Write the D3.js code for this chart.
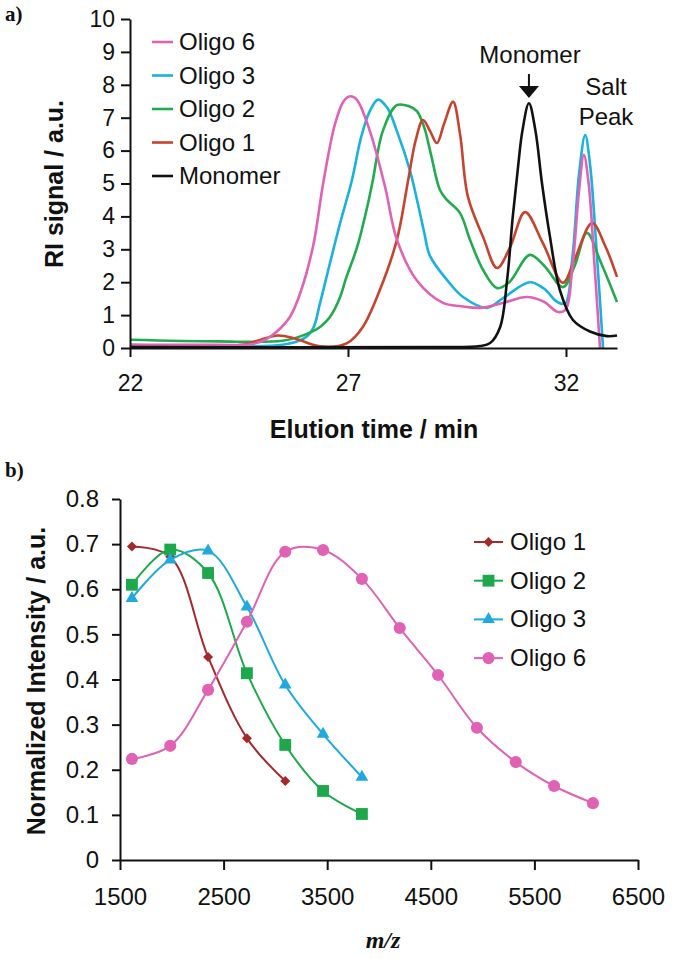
<!DOCTYPE html>
<html>
<head>
<meta charset="utf-8">
<script src="https://cdn.jsdelivr.net/npm/d3@7"></script>
<style>
  body { margin: 0; background: #fff; }
  text { font-family: "Liberation Sans", Arial, sans-serif; fill: #111; }
</style>
</head>
<body>
<svg id="chart" width="675" height="959"></svg>
<script>
// ---- panel a) GPC traces: elution time (min) vs RI signal ----
const oligo6T = [22, 23.5, 24.8, 25.1, 25.37, 25.67, 25.9, 26.2, 26.43, 26.7, 26.9, 27.05, 27.2, 27.5, 27.85, 28.12, 28.58, 29.18, 29.6, 30.03, 30.55, 31.1, 31.5, 31.8, 31.98, 32.15, 32.3, 32.41, 32.52, 32.65, 32.78];
const oligo6V = [0.1, 0.1, 0.12, 0.25, 0.5, 0.95, 1.65, 3.1, 5.0, 6.8, 7.5, 7.65, 7.55, 6.6, 4.9, 3.3, 2.05, 1.37, 1.27, 1.22, 1.37, 1.55, 1.4, 1.1, 1.15, 2.5, 4.8, 5.87, 5.0, 2.6, 0];

const oligo3T = [22, 25.5, 26.0, 26.2, 26.36, 26.59, 26.82, 27.09, 27.3, 27.5, 27.69, 27.9, 28.12, 28.42, 28.6, 28.75, 28.88, 29.27, 29.64, 30.19, 30.56, 31.17, 31.5, 31.8, 31.98, 32.15, 32.3, 32.44, 32.55, 32.7, 32.85];
const oligo3V = [0.1, 0.1, 0.3, 0.6, 1.37, 2.6, 3.8, 5.1, 6.4, 7.2, 7.55, 7.3, 6.6, 5.4, 4.4, 3.5, 2.8, 2.07, 1.55, 1.22, 1.52, 2.0, 1.8, 1.4, 1.35, 2.8, 5.3, 6.47, 5.6, 3.0, 0];

const oligo2T = [22, 24, 25.5, 26.0, 26.36, 26.59, 26.82, 26.95, 27.21, 27.46, 27.57, 27.8, 28.12, 28.4, 28.58, 28.75, 28.9, 29.11, 29.27, 29.57, 29.8, 30.1, 30.42, 30.7, 31.17, 31.5, 31.93, 32.2, 32.48, 32.8, 33.17];
const oligo2V = [0.25, 0.2, 0.22, 0.4, 0.64, 0.95, 1.55, 2.1, 3.07, 4.4, 5.1, 6.6, 7.38, 7.35, 7.2, 6.7, 5.9, 4.8, 4.5, 4.1, 3.28, 2.37, 1.82, 2.0, 2.83, 2.5, 1.85, 2.5, 3.5, 2.6, 1.4];

const oligo1T = [22, 24.2, 24.68, 25.0, 25.39, 25.8, 26.36, 26.98, 27.34, 27.73, 28.12, 28.38, 28.55, 28.72, 28.88, 29.04, 29.2, 29.41, 29.57, 29.75, 30.1, 30.42, 30.72, 31.06, 31.47, 31.93, 32.2, 32.6, 32.9, 33.17];
const oligo1V = [0.05, 0.05, 0.12, 0.25, 0.38, 0.28, 0.05, 0.15, 0.64, 1.76, 3.28, 5.1, 6.3, 6.93, 6.6, 6.23, 6.8, 7.48, 6.5, 4.6, 3.37, 2.43, 3.07, 4.13, 3.19, 1.98, 2.7, 3.8, 3.1, 2.16];

const monomerT = [22, 29.0, 30.03, 30.26, 30.49, 30.65, 30.78, 30.9, 31.0, 31.15, 31.3, 31.45, 31.63, 31.86, 32.16, 32.55, 32.94, 33.17];
const monomerV = [0.03, 0.03, 0.06, 0.15, 0.64, 2.07, 4.0, 5.5, 6.6, 7.44, 6.6, 5.0, 3.4, 1.76, 0.85, 0.5, 0.36, 0.38];

const gpcLegend = ["Oligo 6", "Oligo 3", "Oligo 2", "Oligo 1", "Monomer"];
const gpcTicksX = [22, 27, 32];
const gpcTicksY = [0, 1, 2, 3, 4, 5, 6, 7, 8, 9, 10];

// ---- panel b) normalized intensity vs m/z ----
const mzOligo1 = [1615, 1985, 2350, 2725, 3095];
const intOligo1 = [0.695, 0.672, 0.45, 0.27, 0.175];
const mzOligo2 = [1615, 1985, 2350, 2725, 3095, 3460, 3835];
const intOligo2 = [0.61, 0.688, 0.636, 0.414, 0.255, 0.153, 0.102];
const mzOligo3 = [1615, 1985, 2350, 2725, 3095, 3460, 3835];
const intOligo3 = [0.58, 0.665, 0.685, 0.561, 0.388, 0.279, 0.184];
const mzOligo6 = [1615, 1985, 2350, 2725, 3095, 3460, 3835, 4200, 4570, 4945, 5320, 5690, 6065];
const intOligo6 = [0.224, 0.253, 0.377, 0.528, 0.683, 0.687, 0.623, 0.514, 0.41, 0.293, 0.217, 0.164, 0.126];
const msTicksX = [1500, 2500, 3500, 4500, 5500, 6500];
const msTicksY = [0, 0.1, 0.2, 0.3, 0.4, 0.5, 0.6, 0.7, 0.8];

const zip = (xs, ys) => xs.map((x, i) => [x, ys[i]]);

const svg = d3.select("#chart");

// ======== panel a ========
const xa = d3.scaleLinear().domain([22, 33.17]).range([130, 617]);
const ya = d3.scaleLinear().domain([0, 10]).range([348, 19]);

const gpcSeries = [
  { name: "Oligo 3", color: "#1ab2dc", pts: zip(oligo3T, oligo3V) },
  { name: "Oligo 2", color: "#22ab4e", pts: zip(oligo2T, oligo2V) },
  { name: "Oligo 1", color: "#c6432d", pts: zip(oligo1T, oligo1V) },
  { name: "Oligo 6", color: "#e062b4", pts: zip(oligo6T, oligo6V) },
  { name: "Monomer", color: "#111", pts: zip(monomerT, monomerV) }
];
const gpcColor = Object.fromEntries(gpcSeries.map(s => [s.name, s.color]));

const lineA = d3.line().x(d => xa(d[0])).y(d => Math.min(348, ya(d[1]))).curve(d3.curveCatmullRom.alpha(0.5));

svg.append("g").selectAll("path")
  .data(gpcSeries)
  .join("path")
    .attr("d", d => lineA(d.pts))
    .attr("fill", "none")
    .attr("stroke", d => d.color)
    .attr("stroke-width", 2.6)
    .attr("stroke-linejoin", "round");

const axA_x = svg.append("g").attr("transform", "translate(0,348)")
  .call(d3.axisBottom(xa).tickValues(gpcTicksX).tickSize(9).tickPadding(18).tickSizeOuter(0));
const axA_y = svg.append("g").attr("transform", "translate(130,0)")
  .call(d3.axisLeft(ya).tickValues(gpcTicksY).tickSize(9).tickPadding(6).tickSizeOuter(0));
[axA_x, axA_y].forEach(a => {
  a.selectAll("path, line").attr("stroke", "#111").attr("stroke-width", 2);
  a.selectAll("text").style("font-size", "23px").attr("fill", "#111");
});

// legend a
const legA = svg.append("g").selectAll("g")
  .data(gpcLegend)
  .join("g")
    .attr("transform", (d, i) => `translate(0,${50 + i * 33.5})`);
legA.append("line")
  .attr("x1", 152).attr("x2", 173).attr("y1", -8).attr("y2", -8)
  .attr("stroke", d => gpcColor[d]).attr("stroke-width", 2.6);
legA.append("text").attr("x", 179).attr("y", 0)
  .style("font-size", "24px").text(d => d);

// annotations
svg.append("text").attr("x", 530).attr("y", 63).attr("text-anchor", "middle")
  .style("font-size", "24px").text("Monomer");
svg.append("line").attr("x1", xa(31.15)).attr("x2", xa(31.15)).attr("y1", 74).attr("y2", 88)
  .attr("stroke", "#111").attr("stroke-width", 2);
svg.append("path")
  .attr("d", `M${xa(31.15) - 10},86 L${xa(31.15) + 10},86 L${xa(31.15)},98 Z`)
  .attr("fill", "#111");
svg.append("text").attr("x", 606).attr("y", 95).attr("text-anchor", "middle")
  .style("font-size", "24px").text("Salt");
svg.append("text").attr("x", 606).attr("y", 125).attr("text-anchor", "middle")
  .style("font-size", "24px").text("Peak");

svg.append("text").attr("x", 374).attr("y", 438).attr("text-anchor", "middle")
  .style("font-size", "25px").style("font-weight", "bold").text("Elution time / min");
svg.append("text").attr("transform", "translate(63,184) rotate(-90)").attr("text-anchor", "middle")
  .style("font-size", "25px").style("font-weight", "bold").text("RI signal / a.u.");
svg.append("text").attr("x", 5).attr("y", 21)
  .style("font-family", "'Liberation Serif', 'Times New Roman', serif")
  .style("font-size", "21px").style("font-weight", "bold").text("a)");

// ======== panel b ========
const xb = d3.scaleLinear().domain([1500, 6500]).range([120, 638]);
const yb = d3.scaleLinear().domain([0, 0.8]).range([860, 499]);

const msSeries = [
  { name: "Oligo 1", color: "#a3292a", symbol: d3.symbolSquare, size: 50, rot: 45, pts: zip(mzOligo1, intOligo1) },
  { name: "Oligo 2", color: "#1ca84b", symbol: d3.symbolSquare, size: 140, rot: 0, pts: zip(mzOligo2, intOligo2) },
  { name: "Oligo 3", color: "#20a9de", symbol: d3.symbolTriangle, size: 70, rot: 0, pts: zip(mzOligo3, intOligo3) },
  { name: "Oligo 6", color: "#e062b4", symbol: d3.symbolCircle, size: 115, rot: 0, pts: zip(mzOligo6, intOligo6) }
];

const lineB = d3.line().x(d => xb(d[0])).y(d => yb(d[1])).curve(d3.curveCatmullRom.alpha(0.5));

const gB = svg.append("g").selectAll("g")
  .data(msSeries)
  .join("g");
gB.append("path")
  .attr("d", d => lineB(d.pts))
  .attr("fill", "none")
  .attr("stroke", d => d.color)
  .attr("stroke-width", 2);
gB.each(function (s) {
  d3.select(this).selectAll("path.mk")
    .data(s.pts)
    .join("path")
      .attr("class", "mk")
      .attr("d", d3.symbol().type(s.symbol).size(s.size))
      .attr("transform", d => `translate(${xb(d[0])},${yb(d[1])}) rotate(${s.rot})`)
      .attr("fill", s.color);
});

const axB_x = svg.append("g").attr("transform", "translate(0,860)")
  .call(d3.axisBottom(xb).tickValues(msTicksX).tickSize(10).tickPadding(18).tickSizeOuter(0)
    .tickFormat(d3.format("d")));
const axB_y = svg.append("g").attr("transform", "translate(120,0)")
  .call(d3.axisLeft(yb).tickValues(msTicksY).tickSize(8).tickPadding(13).tickSizeOuter(0)
    .tickFormat(d => d === 0 ? "0" : d3.format(".1f")(d)));
[axB_x, axB_y].forEach(a => {
  a.selectAll("path, line").attr("stroke", "#111").attr("stroke-width", 2);
  a.selectAll("text").style("font-size", "24px").attr("fill", "#111");
});

// legend b
const legB = svg.append("g").selectAll("g")
  .data(msSeries)
  .join("g")
    .attr("transform", (d, i) => `translate(0,${550 + i * 38.7})`);
legB.append("line")
  .attr("x1", 474).attr("x2", 503).attr("y1", -8).attr("y2", -8)
  .attr("stroke", d => d.color).attr("stroke-width", 2);
legB.append("path")
  .attr("d", d => d3.symbol().type(d.symbol).size(d.size)())
  .attr("transform", d => `translate(488.5,-8) rotate(${d.rot})`)
  .attr("fill", d => d.color);
legB.append("text").attr("x", 510).attr("y", 0)
  .style("font-size", "24px").text(d => d.name);

svg.append("text").attr("x", 383).attr("y", 948).attr("text-anchor", "middle")
  .style("font-family", "'Liberation Serif', 'Times New Roman', serif")
  .style("font-size", "24px").style("font-weight", "bold").style("font-style", "italic").text("m/z");
svg.append("text").attr("transform", "translate(45,681) rotate(-90)").attr("text-anchor", "middle")
  .style("font-size", "25px").style("font-weight", "bold").text("Normalized Intensity / a.u.");
svg.append("text").attr("x", 5).attr("y", 477)
  .style("font-family", "'Liberation Serif', 'Times New Roman', serif")
  .style("font-size", "21px").style("font-weight", "bold").text("b)");
</script>
</body>
</html>
